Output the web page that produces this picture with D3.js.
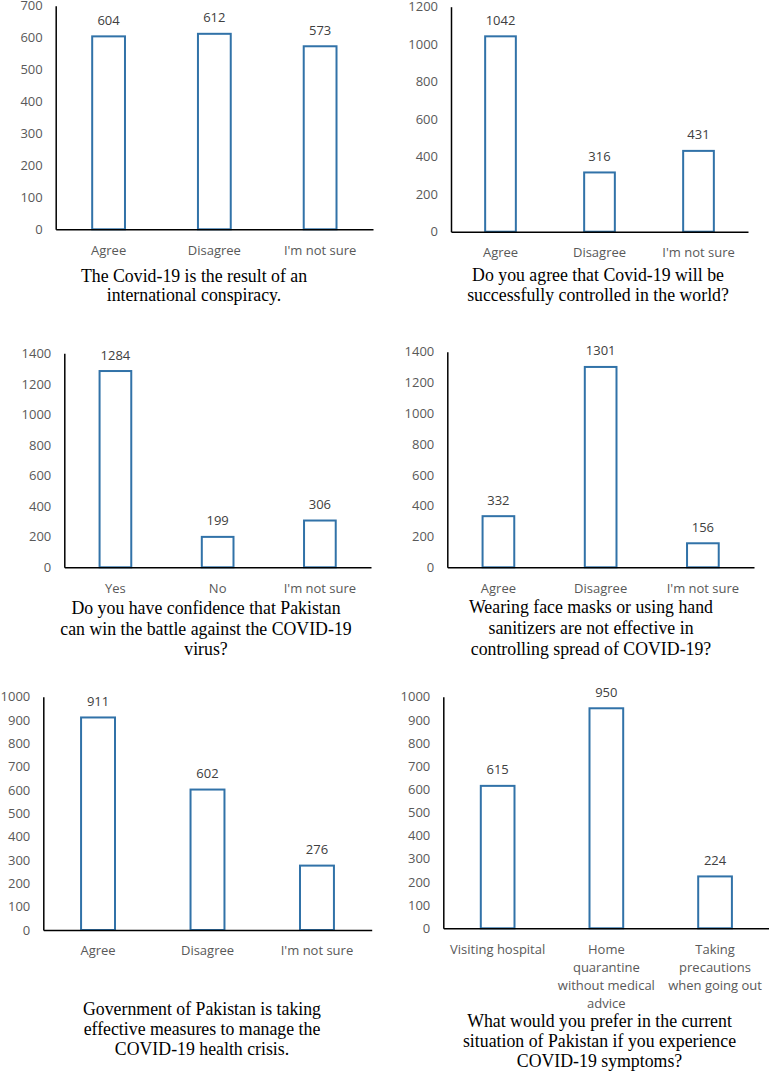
<!DOCTYPE html>
<html><head><meta charset="utf-8">
<script src="https://cdn.jsdelivr.net/npm/d3@7"></script>
<style>body{margin:0;background:#fff} svg{display:block}</style>
</head><body><svg id="c" width="769" height="1072"></svg>
<script>
// ---- data ----
const categories1 = ["Agree", "Disagree", "I'm not sure"];
const values1 = [604, 612, 573];
const ticks1 = [0, 100, 200, 300, 400, 500, 600, 700];
const title1 = ["The Covid-19 is the result of an", "international conspiracy."];

const categories2 = ["Agree", "Disagree", "I'm not sure"];
const values2 = [1042, 316, 431];
const ticks2 = [0, 200, 400, 600, 800, 1000, 1200];
const title2 = ["Do you agree that Covid-19 will be", "successfully controlled in the world?"];

const categories3 = ["Yes", "No", "I'm not sure"];
const values3 = [1284, 199, 306];
const ticks3 = [0, 200, 400, 600, 800, 1000, 1200, 1400];
const title3 = ["Do you have confidence that Pakistan", "can win the battle against the COVID-19", "virus?"];

const categories4 = ["Agree", "Disagree", "I'm not sure"];
const values4 = [332, 1301, 156];
const ticks4 = [0, 200, 400, 600, 800, 1000, 1200, 1400];
const title4 = ["Wearing face masks or using hand", "sanitizers are not effective in", "controlling spread of COVID-19?"];

const categories5 = ["Agree", "Disagree", "I'm not sure"];
const values5 = [911, 602, 276];
const ticks5 = [0, 100, 200, 300, 400, 500, 600, 700, 800, 900, 1000];
const title5 = ["Government of Pakistan is taking", "effective measures to manage the", "COVID-19 health crisis."];

const categories6 = ["Visiting hospital", "Home\nquarantine\nwithout medical\nadvice", "Taking\nprecautions\nwhen going out"];
const values6 = [615, 950, 224];
const ticks6 = [0, 100, 200, 300, 400, 500, 600, 700, 800, 900, 1000];
const title6 = ["What would you prefer in the current", "situation of Pakistan if you experience", "COVID-19 symptoms?"];

// ---- layout ----
const layout = [
  {x0: 55.7, x1: 373, base: 229.3, top: 5.7, tx: 194, ty: [282, 300.5]},
  {x0: 451, x1: 748, base: 231.7, top: 6.7, tx: 598, ty: [281, 301]},
  {x0: 64.3, x1: 371, base: 567.3, top: 353.3, tx: 206, ty: [614.3, 635, 655]},
  {x0: 447.3, x1: 754, base: 567.3, top: 351.7, tx: 591, ty: [613.3, 634.3, 655]},
  {x0: 43.3, x1: 371.7, base: 930, top: 696.7, tx: 202, ty: [1015, 1035, 1055]},
  {x0: 443.3, x1: 769.4, base: 928.3, top: 696.7, tx: 599.5, ty: [1027, 1047, 1067]}
];
const panels = [
  [categories1, values1, ticks1, title1],
  [categories2, values2, ticks2, title2],
  [categories3, values3, ticks3, title3],
  [categories4, values4, ticks4, title4],
  [categories5, values5, ticks5, title5],
  [categories6, values6, ticks6, title6]
];

const svg = d3.select("#c");
const sans = "'Open Sans', sans-serif";
const serif = "'Liberation Serif', 'Times New Roman', serif";

panels.forEach(([cats, vals, ticks, title], i) => {
  const L = layout[i];
  const g = svg.append("g");
  const x = d3.scaleBand().domain(cats).range([L.x0, L.x1]).paddingInner(0.69).paddingOuter(0.345);
  const y = d3.scaleLinear().domain([0, d3.max(ticks)]).range([L.base, L.top]);

  // y axis
  const ya = g.append("g").attr("transform", `translate(${L.x0},0)`)
    .call(d3.axisLeft(y).tickValues(ticks).tickSize(0).tickPadding(13).tickFormat(d3.format("d")));
  ya.select(".domain").attr("stroke", "#000").attr("stroke-width", 1.5);
  ya.selectAll("text").attr("font-family", sans).attr("font-size", 13).attr("fill", "#595959");

  // bars
  g.selectAll("rect.bar").data(vals).join("rect").attr("class", "bar")
    .attr("x", (d, j) => x(cats[j]))
    .attr("width", x.bandwidth())
    .attr("y", d => y(d))
    .attr("height", d => L.base - y(d))
    .attr("fill", "#fff").attr("stroke", "#3172a8").attr("stroke-width", 2);

  // value labels
  g.selectAll("text.val").data(vals).join("text").attr("class", "val")
    .attr("x", (d, j) => x(cats[j]) + x.bandwidth() / 2)
    .attr("y", d => y(d) - 11.5)
    .attr("text-anchor", "middle")
    .attr("font-family", sans).attr("font-size", 13).attr("fill", "#404040")
    .text(d => d);

  // x axis
  const xa = g.append("g").attr("transform", `translate(0,${L.base})`)
    .call(d3.axisBottom(x).tickSize(0).tickPadding(16).tickFormat(() => ""));
  xa.select(".domain").attr("stroke", "#000").attr("stroke-width", 1.5);
  xa.selectAll(".tick text").each(function(d) {
    const t = d3.select(this).attr("font-family", sans).attr("font-size", 13).attr("fill", "#595959");
    t.text(null);
    d.split("\n").forEach((line, k) => {
      t.append("tspan").attr("x", 0).attr("dy", k === 0 ? "0.71em" : 18.3).text(line);
    });
    t.attr("dy", null);
  });

  // title
  const tt = g.append("text").attr("text-anchor", "middle")
    .attr("font-family", serif).attr("font-size", 17.8).attr("fill", "#000");
  title.forEach((line, k) => {
    tt.append("tspan").attr("x", L.tx).attr("y", L.ty[k]).text(line);
  });
});
</script>
</body></html>
